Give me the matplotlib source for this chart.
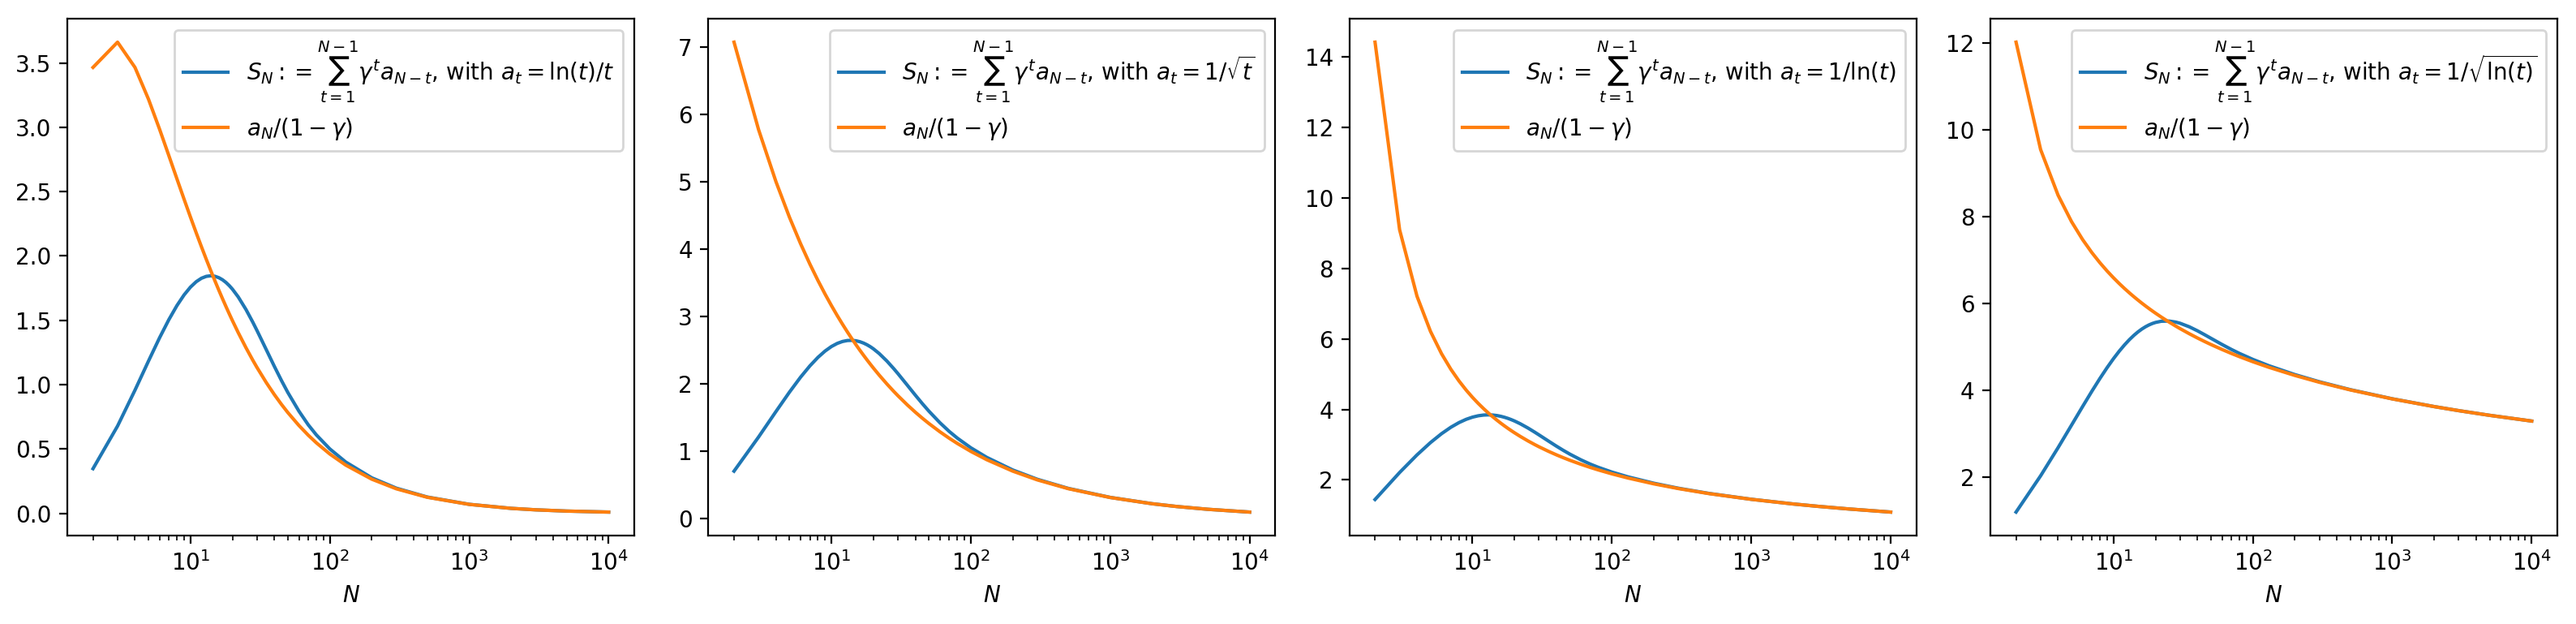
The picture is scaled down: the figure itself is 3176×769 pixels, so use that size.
import matplotlib
matplotlib.use('Agg')
import matplotlib.pyplot as plt

# N values (x axis), shared by all four panels
N = [2, 3, 4, 5, 6, 7, 8, 9, 10, 11, 12, 13, 14, 15, 16, 17, 18, 19, 20,
     22, 25, 28, 30, 35, 40, 45, 50, 60, 70, 80, 100, 130, 200, 300, 500,
     1000, 2000, 3000, 5000, 10000]

# a_t = ln(t)/t
S_lnt_t = [0.3466, 0.6781, 0.9569, 1.1831, 1.3634, 1.5050, 1.6145, 1.6972, 1.7577,
           1.7999, 1.8270, 1.8416, 1.8460, 1.8419, 1.8310, 1.8146, 1.7937, 1.7693,
           1.7421, 1.6822, 1.5847, 1.4856, 1.4212, 1.2716, 1.1416, 1.0313, 0.9383,
           0.7939, 0.6876, 0.6093, 0.5001, 0.3983, 0.2755, 0.1951, 0.1262, 0.06962,
           0.03816, 0.02676, 0.01706, 0.009218]
lim_lnt_t = [3.4657, 3.6620, 3.4657, 3.2189, 2.9863, 2.7799, 2.5993, 2.4414, 2.3026,
             2.1799, 2.0708, 1.9730, 1.8850, 1.8054, 1.7329, 1.6666, 1.6058, 1.5497,
             1.4979, 1.4050, 1.2876, 1.1901, 1.1337, 1.0158, 0.9222, 0.8459, 0.7824,
             0.6824, 0.6069, 0.5478, 0.4605, 0.3744, 0.2649, 0.1901, 0.1243, 0.06908,
             0.03801, 0.02669, 0.01703, 0.00921]

# a_t = 1/sqrt(t)
S_sqrt = [0.7071, 1.2137, 1.5924, 1.8803, 2.1006, 2.2685, 2.3952, 2.4890, 2.5563,
          2.6022, 2.6307, 2.6449, 2.6477, 2.6411, 2.6270, 2.6069, 2.5819, 2.5531,
          2.5214, 2.4519, 2.3401, 2.2269, 2.1535, 1.9827, 1.8336, 1.7060, 1.5973,
          1.4254, 1.2959, 1.1971, 1.0536, 0.9115, 0.7243, 0.5865, 0.4514, 0.3177,
          0.2241, 0.1828, 0.1415, 0.1000]
lim_sqrt = [7.0711, 5.7735, 5.0000, 4.4721, 4.0825, 3.7796, 3.5355, 3.3333, 3.1623,
            3.0151, 2.8868, 2.7735, 2.6726, 2.5820, 2.5000, 2.4254, 2.3570, 2.2942,
            2.2361, 2.1320, 2.0000, 1.8898, 1.8257, 1.6903, 1.5811, 1.4907, 1.4142,
            1.2910, 1.1952, 1.1180, 1.0000, 0.8771, 0.7071, 0.5774, 0.4472, 0.3162,
            0.2236, 0.1826, 0.1414, 0.1000]

# a_t = 1/ln(t)
S_inv_ln = [1.4427, 2.2087, 2.7091, 3.0596, 3.3117, 3.4944, 3.6259, 3.7184, 3.7809,
            3.8198, 3.8403, 3.8461, 3.8404, 3.8257, 3.8038, 3.7763, 3.7447, 3.7098,
            3.6727, 3.5940, 3.4722, 3.3530, 3.2772, 3.1047, 2.9577, 2.8341, 2.7303,
            2.5683, 2.4475, 2.3557, 2.2218, 2.0875, 1.9046, 1.7629, 1.6139, 1.4496,
            1.3164, 1.2495, 1.1744, 1.0859]
lim_inv_ln = [14.4270, 9.1024, 7.2135, 6.2134, 5.5811, 5.1390, 4.8090, 4.5512, 4.3429,
              4.1703, 4.0243, 3.8987, 3.7892, 3.6927, 3.6067, 3.5296, 3.4598, 3.3962,
              3.3381, 3.2352, 3.1067, 3.0010, 2.9401, 2.8127, 2.7109, 2.6270, 2.5562,
              2.4424, 2.3538, 2.2820, 2.1715, 2.0544, 1.8874, 1.7532, 1.6091, 1.4477,
              1.3156, 1.2490, 1.1741, 1.0857]

# a_t = 1/sqrt(ln(t))
S_inv_sqrt_ln = [1.2011, 2.0351, 2.6809, 3.2010, 3.6280, 3.9821, 4.2773, 4.5242, 4.7308,
                 4.9035, 5.0475, 5.1672, 5.2660, 5.3471, 5.4130, 5.4658, 5.5074, 5.5394,
                 5.5632, 5.5908, 5.5954, 5.5713, 5.5455, 5.4630, 5.3716, 5.2823, 5.1995,
                 5.0574, 4.9435, 4.8515, 4.7129, 4.5686, 4.3641, 4.1986, 4.0173, 3.8073,
                 3.6282, 3.5348, 3.4269, 3.2952]
lim_inv_sqrt_ln = [12.0112, 9.5406, 8.4932, 7.8825, 7.4707, 7.1687, 6.9347, 6.7463, 6.5901,
                   6.4578, 6.3437, 6.2440, 6.1557, 6.0768, 6.0056, 5.9410, 5.8820, 5.8277,
                   5.7776, 5.6878, 5.5738, 5.4782, 5.4223, 5.3035, 5.2066, 5.1254, 5.0559,
                   4.9421, 4.8516, 4.7771, 4.6599, 4.5326, 4.3444, 4.1872, 4.0114, 3.8048,
                   3.6272, 3.5341, 3.4265, 3.2951]

a_labels = [r'$a_t = \ln(t)/t$', r'$a_t = 1/\sqrt{t}$',
            r'$a_t = 1/\ln(t)$', r'$a_t = 1/\sqrt{\ln(t)}$']
S_series = [S_lnt_t, S_sqrt, S_inv_ln, S_inv_sqrt_ln]
lim_series = [lim_lnt_t, lim_sqrt, lim_inv_ln, lim_inv_sqrt_ln]

fig, axes = plt.subplots(1, 4, figsize=(15.88, 3.845), dpi=200)
plt.subplots_adjust(left=0.0261, right=0.9928, bottom=0.1417, top=0.9701, wspace=0.1302)

for ax, S, lim, lab in zip(axes, S_series, lim_series, a_labels):
    ax.plot(N, S, label=r'$S_N := \sum_{t=1}^{N-1} \gamma^t a_{N-t}$, with ' + lab)
    ax.plot(N, lim, label=r'$a_N/(1-\gamma)$')
    ax.set_xscale('log')
    ax.set_xlabel('$N$')
    ax.legend(loc='upper right')

fig.savefig('out.png', dpi=200)
